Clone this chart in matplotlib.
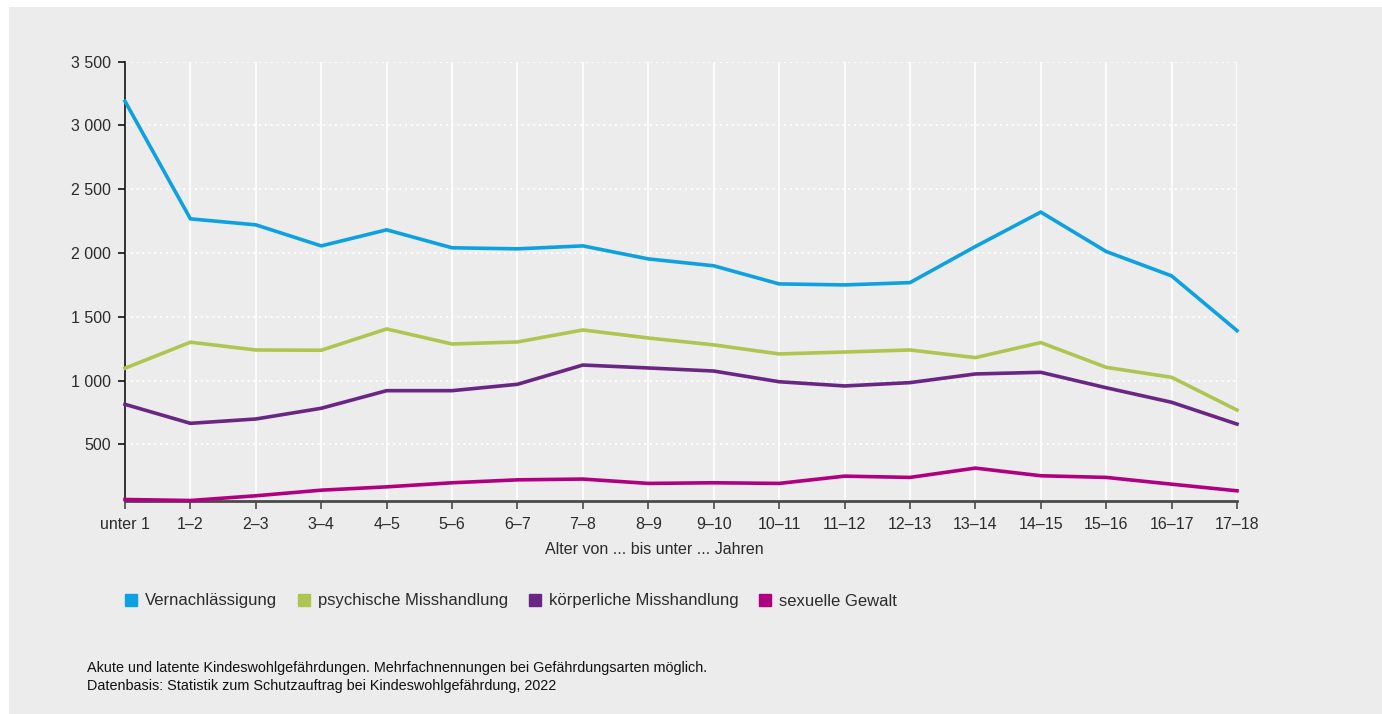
import matplotlib.pyplot as plt
from matplotlib.lines import Line2D
from matplotlib.patches import Rectangle

ages = ["unter 1", "1–2", "2–3", "3–4", "4–5", "5–6", "6–7", "7–8", "8–9",
        "9–10", "10–11", "11–12", "12–13", "13–14", "14–15", "15–16",
        "16–17", "17–18"]

vernachlaessigung = [3190, 2268, 2221, 2056, 2182, 2041, 2033, 2056, 1954,
                     1900, 1758, 1750, 1768, 2051, 2321, 2012, 1821, 1392]
psychisch = [1097, 1301, 1240, 1238, 1405, 1287, 1303, 1397, 1334,
             1280, 1209, 1224, 1240, 1180, 1298, 1104, 1026, 769]
koerperlich = [814, 665, 699, 783, 921, 921, 971, 1122, 1099,
               1075, 991, 958, 984, 1052, 1065, 944, 830, 659]
sexuell = [68, 60, 97, 141, 167, 199, 222, 228, 194,
           199, 194, 251, 241, 314, 254, 241, 188, 136]

series = [
    ("Vernachlässigung", vernachlaessigung, "#0ea1e0"),
    ("psychische Misshandlung", psychisch, "#aec651"),
    ("körperliche Misshandlung", koerperlich, "#6a2683"),
    ("sexuelle Gewalt", sexuell, "#b1007f"),
]

yticks = [500, 1000, 1500, 2000, 2500, 3000, 3500]
ytick_labels = ["500", "1 000", "1 500", "2 000", "2 500", "3 000", "3 500"]

plt.rcParams['font.family'] = ['Liberation Sans', 'DejaVu Sans']
txt = "#2b2b2b"
bg = "#ececec"

W, H = 1382, 714
fig = plt.figure(figsize=(W / 100, H / 100), dpi=100)
fig.patch.set_facecolor("white")
fig.patches.append(Rectangle((9 / W, 0), 1 - 9 / W, 1 - 7 / H,
                             transform=fig.transFigure, facecolor=bg,
                             edgecolor="none", zorder=-10))

ax = fig.add_axes([125 / W, 1 - 500.5 / H, (1237 - 125) / W, (500.5 - 61.7) / H])
ax.set_facecolor(bg)

x = list(range(len(ages)))
for name, vals, col in series:
    ax.plot(x, vals, color=col, lw=2.6, label=name, zorder=3,
            solid_joinstyle="round", clip_on=False)

ax.set_xlim(0, len(ages) - 1)
ax.set_ylim(60, 3500)
ax.set_xticks(x)
ax.set_xticklabels(ages)
ax.set_yticks(yticks)
ax.set_yticklabels(ytick_labels)

for xi in x:
    ax.axvline(xi, color="white", lw=1.2, zorder=1)
for yv in yticks:
    ax.axhline(yv, color="white", lw=1.4, ls=(0, (1, 2)), zorder=1)

for s in ["top", "right"]:
    ax.spines[s].set_visible(False)
ax.spines["left"].set_color("#111111")
ax.spines["left"].set_linewidth(1.2)
ax.spines["bottom"].set_color("#4a4a4a")
ax.spines["bottom"].set_linewidth(2)
ax.spines["bottom"].set_zorder(2)
ax.tick_params(axis="x", length=6, width=1.2, color="#4a4a4a", pad=6,
               labelsize=11.5, labelcolor=txt)
ax.tick_params(axis="y", length=5, width=1.2, color="#111111", pad=5,
               labelsize=11.5, labelcolor=txt)

fig.text(654 / W, 1 - 550 / H, "Alter von ... bis unter ... Jahren",
         ha="center", va="center", fontsize=11.5, color=txt)

handles = [Line2D([], [], marker="s", ls="none", color=c, markersize=8.5)
           for _, _, c in series]
fig.legend(handles, [s[0] for s in series], loc="center left",
           bbox_to_anchor=(124 / W, 1 - 601 / H), ncol=4, frameon=False,
           fontsize=12, handlelength=0.8, handletextpad=0.45,
           columnspacing=1.2, labelcolor=txt, borderaxespad=0, borderpad=0)

fig.text(87 / W, 1 - 668 / H,
         "Akute und latente Kindeswohlgefährdungen. Mehrfachnennungen bei Gefährdungsarten möglich.",
         ha="left", va="center", fontsize=10.4, color="#111111")
fig.text(87 / W, 1 - 686 / H,
         "Datenbasis: Statistik zum Schutzauftrag bei Kindeswohlgefährdung, 2022",
         ha="left", va="center", fontsize=10.4, color="#111111")

fig.savefig("out.png", dpi=100, facecolor=fig.get_facecolor())
